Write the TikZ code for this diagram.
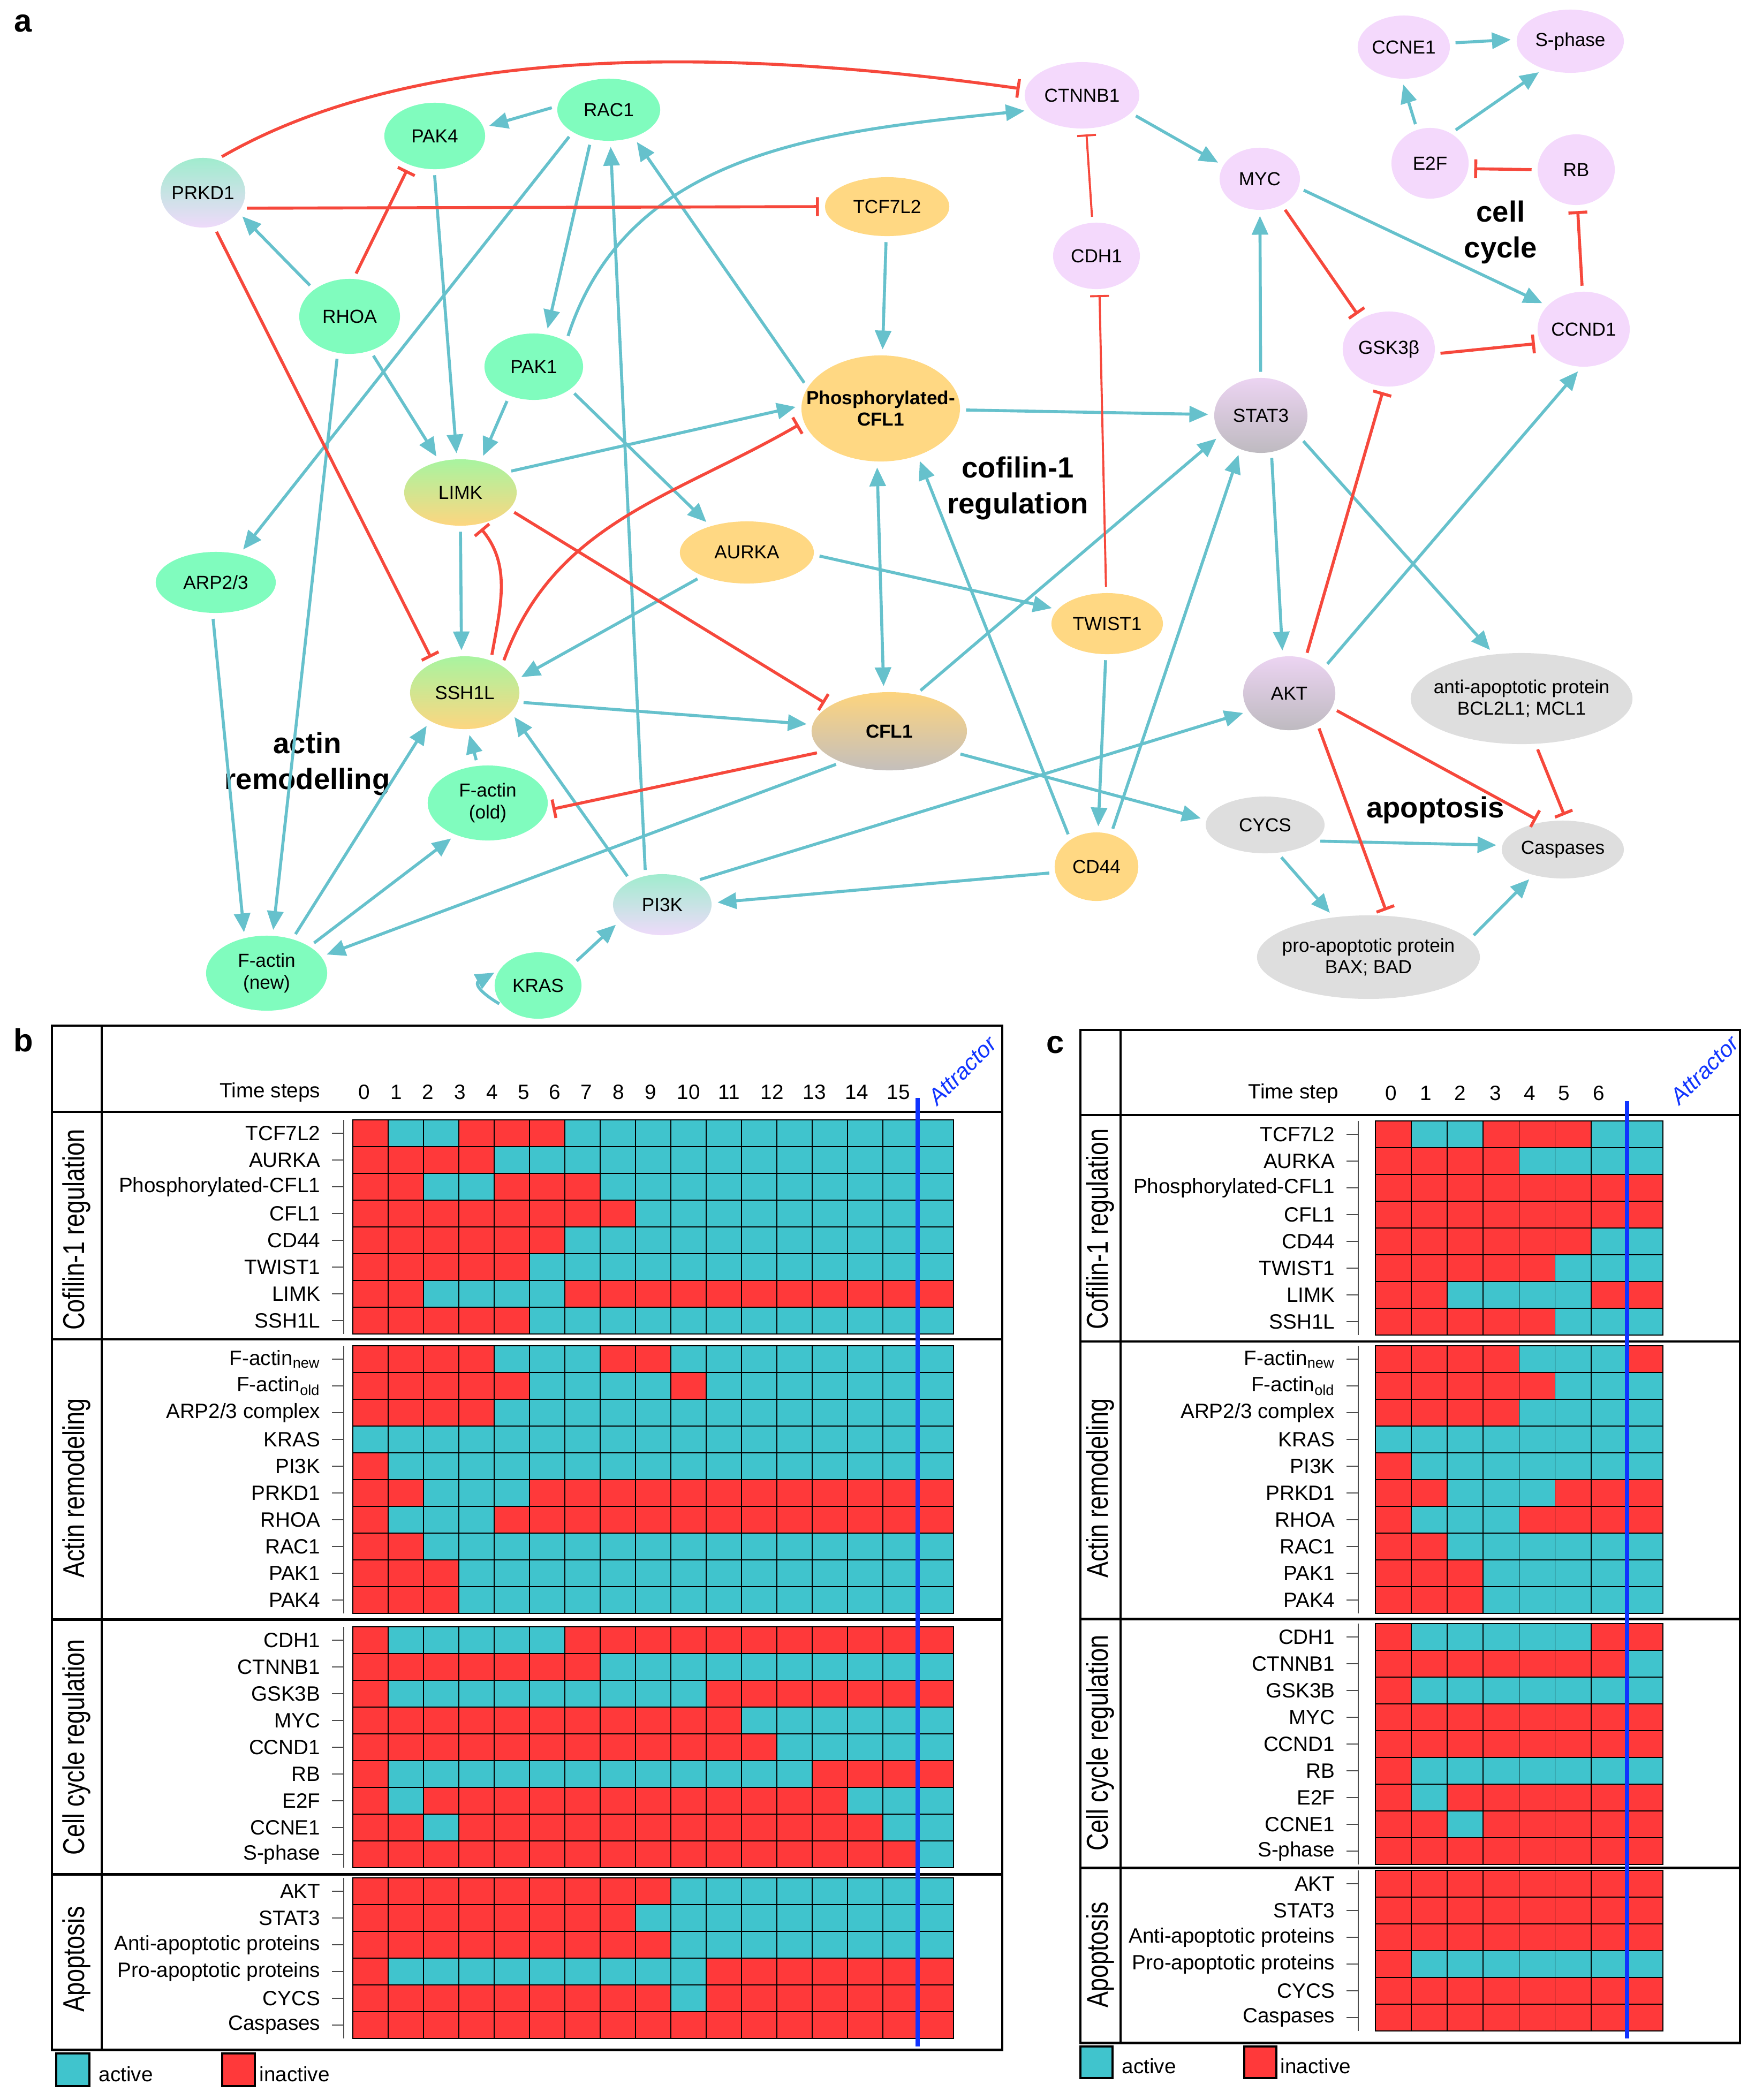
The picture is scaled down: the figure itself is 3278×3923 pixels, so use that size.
\documentclass[tikz,border=0pt]{standalone}
\usepackage{fontspec}
\setmainfont{Liberation Sans}
\newfontfamily\secfont[FakeStretch=0.8]{Liberation Sans}
\usetikzlibrary{arrows.meta}
\usetikzlibrary{shapes.geometric}

\definecolor{ndgreen}{RGB}{128,252,190}
\definecolor{ndorange}{RGB}{255,216,131}
\definecolor{ndpink}{RGB}{244,217,252}
\definecolor{ndgray}{RGB}{222,222,222}
\definecolor{prkdtop}{RGB}{160,236,206}
\definecolor{prkdbot}{RGB}{238,218,250}
\definecolor{limktop}{RGB}{168,244,160}
\definecolor{limkbot}{RGB}{253,214,128}
\definecolor{cfltop}{RGB}{253,212,126}
\definecolor{cflbot}{RGB}{196,191,188}
\definecolor{stattop}{RGB}{236,212,242}
\definecolor{statbot}{RGB}{190,186,192}
\definecolor{edgecyan}{RGB}{102,193,204}
\definecolor{edgered}{RGB}{246,72,60}
\definecolor{hmon}{RGB}{64,196,205}
\definecolor{hmoff}{RGB}{255,57,58}
\definecolor{attblue}{RGB}{16,52,255}

\tikzset{
  gene/.style={ellipse, inner sep=0pt, inner xsep=-4pt, align=center, font=\fontsize{10}{11.5}\selectfont},
  ellsize/.style 2 args={minimum width=#1*0.02cm, minimum height=#2*0.02cm},
  actinnode/.style={gene, fill=ndgreen},
  cofnode/.style={gene, fill=ndorange},
  cycnode/.style={gene, fill=ndpink},
  apopnode/.style={gene, fill=ndgray},
  mixnode/.style 2 args={gene, top color=#1, bottom color=#2},
  act/.style={draw=edgecyan, line width=1.6pt, -{Triangle[length=10pt,width=8.5pt]}, shorten <=3pt, shorten >=3pt},
  actboth/.style={act, {Triangle[length=10pt,width=8.5pt]}-{Triangle[length=10pt,width=8.5pt]}},
  inh/.style={draw=edgered, line width=1.6pt, -{Bar[width=10pt]}, shorten <=3pt, shorten >=3pt},
  thininh/.style={inh, line width=1.1pt},
  region/.style={font=\bfseries\fontsize{15.5}{19}\selectfont, align=center},
  panel/.style={font=\bfseries\fontsize{17}{17}\selectfont, anchor=base west, inner sep=0pt},
  cell/.style={draw=black, line width=0.5pt},
  rowlab/.style={anchor=east, inner sep=0pt, font=\fontsize{11}{11}\selectfont},
  rowtick/.style={draw=black!70, line width=0.8pt},
  steplab/.style={inner sep=0pt, font=\fontsize{11}{11}\selectfont},
  seclab/.style={rotate=90, inner sep=0pt, font=\secfont\fontsize{16}{16}\selectfont},
  frame/.style={draw=black, line width=1.4pt},
  thinframe/.style={draw=black, line width=0.9pt},
  attline/.style={draw=attblue, line width=2.3pt},
  attlab/.style={rotate=45, inner sep=0pt, text=attblue, font=\itshape\fontsize{12}{12}\selectfont},
  legbox/.style={draw=black, line width=1pt},
  leglab/.style={anchor=base west, inner sep=0pt, font=\fontsize{11}{11}\selectfont},
}

% name, x0, top, cell width, tick gap, label, states
\newcommand{\hmrow}[7]{%
  \foreach \s [count=\k from 0] in {#7}{%
    \ifnum\s=1 \colorlet{cellfill}{hmon}\else\colorlet{cellfill}{hmoff}\fi
    \filldraw[cell, fill=cellfill] ({#2+\k*#4},#3) rectangle ++(#4,50);
  }
  \node[rowlab] (#1) at ({#2-#5-43},{#3+25}) {#6};
  \draw[rowtick] ({#2-#5-22},{#3+25}) -- ++(22,0);
}

\begin{document}
\begin{tikzpicture}[x=0.01cm, y=-0.01cm]
\useasboundingbox (0,0) rectangle (3278,3923);

\node[panel] (pa) at (26,59) {a};
\node[panel] (pb) at (25,1964) {b};
\node[panel] (pc) at (1954,1967) {c};

\node[mixnode={prkdtop}{prkdbot}, ellsize={79}{65}] (PRKD1) at (379,360) {PRKD1};
\node[actinnode, ellsize={94}{62}] (PAK4) at (812,254) {PAK4};
\node[actinnode, ellsize={96}{58}] (RAC1) at (1137,205) {RAC1};
\node[actinnode, ellsize={94}{70}] (RHOA) at (653,591) {RHOA};
\node[actinnode, ellsize={92}{62}] (PAK1) at (997,685) {PAK1};
\node[mixnode={limktop}{limkbot}, ellsize={105}{62}] (LIMK) at (860,920) {LIMK};
\node[mixnode={limktop}{limkbot}, ellsize={102}{68}] (SSH1L) at (868,1294) {SSH1L};
\node[actinnode, ellsize={112}{57}] (ARP) at (403,1088) {ARP2/3};
\node[actinnode, ellsize={112}{70}] (FOLD) at (911,1500) {F-actin\\(old)};
\node[actinnode, ellsize={113}{70}] (FNEW) at (498,1818) {F-actin\\(new)};
\node[actinnode, ellsize={81}{62}] (KRAS) at (1005,1841) {KRAS};
\node[mixnode={prkdtop}{prkdbot}, ellsize={92}{57}] (PI3K) at (1237,1690) {PI3K};
\node[cofnode, ellsize={125}{58}] (AURKA) at (1395,1032) {AURKA};
\node[cofnode, ellsize={116}{55}] (TCF) at (1657,386) {TCF7L2};
\node[cofnode, ellsize={148}{99}, inner xsep=-25pt, font=\bfseries\fontsize{10}{11.5}\selectfont] (PCFL) at (1645,763) {Phosphorylated-\\CFL1};
\node[mixnode={cfltop}{cflbot}, ellsize={145}{73}, font=\bfseries\fontsize{10}{11.5}\selectfont] (CFL) at (1661,1366) {CFL1};
\node[cofnode, ellsize={104}{57}] (TWIST) at (2068,1165) {TWIST1};
\node[cofnode, ellsize={78}{64}] (CD44) at (2048,1619) {CD44};
\node[cycnode, ellsize={107}{62}] (CTNNB1) at (2021,178) {CTNNB1};
\node[cycnode, ellsize={81}{62}] (CDH1) at (2048,478) {CDH1};
\node[cycnode, ellsize={75}{58}] (MYC) at (2353,334) {MYC};
\node[mixnode={stattop}{statbot}, ellsize={87}{70}] (STAT3) at (2355,776) {STAT3};
\node[cycnode, ellsize={86}{70}] (GSK) at (2594,652) {GSK3β};
\node[cycnode, ellsize={86}{70}] (CCND1) at (2958,615) {CCND1};
\node[cycnode, ellsize={72}{66}] (E2F) at (2671,305) {E2F};
\node[cycnode, ellsize={72}{66}] (RB) at (2944,317) {RB};
\node[cycnode, ellsize={86}{59}] (CCNE1) at (2622,88) {CCNE1};
\node[cycnode, ellsize={100}{59}] (SPH) at (2933,77) {S-phase};
\node[mixnode={stattop}{statbot}, ellsize={86}{69}] (AKT) at (2408,1295) {AKT};
\node[apopnode, ellsize={207}{85}, inner xsep=-14pt] (ANTI) at (2842,1305) {anti-apoptotic protein\\BCL2L1; MCL1};
\node[apopnode, ellsize={111}{53}] (CYCS) at (2363,1541) {CYCS};
\node[apopnode, ellsize={114}{54}] (CASP) at (2919,1587) {Caspases};
\node[apopnode, ellsize={208}{78}, inner xsep=-14pt] (PRO) at (2556,1788) {pro-apoptotic protein\\BAX; BAD};

\node[region] (lblactin) at (574,1427) {actin\\remodelling};
\node[region] (lblcof) at (1901,912) {cofilin-1\\regulation};
\node[region] (lblcyc) at (2803,434) {cell\\cycle};
\node[region] (lblapop) at (2681,1513) {apoptosis};

\draw[act] (RAC1.176) -- (PAK4.10);
\draw[act] (RAC1.-121) -- (PAK1.69);
\draw[act] (RAC1.212) -- (ARP.50);
\draw[act] (PI3K.120) -- (RAC1.-87);
\draw[act] (PCFL.164) -- (RAC1.-48);
\draw[act] (RHOA.143) -- (PRKD1.-29);
\draw[act] (RHOA.-59) -- (LIMK.124);
\draw[act] (RHOA.-108) -- (FNEW.81);
\draw[act] (PAK4.-91) -- (LIMK.96);
\draw[act] (PAK1.-130) -- (LIMK.57);
\draw[act] (PAK1.38) to[out=72,in=186] (CTNNB1.196);
\draw[act] (PAK1.-32) -- (AURKA.144);
\draw[act] (LIMK.24) -- (PCFL.178);
\draw[act] (LIMK.-90) -- (SSH1L.95);
\draw[act] (TCF) -- (PCFL);
\draw[actboth] (PCFL.-94) -- (CFL.98);
\draw[act] (PCFL) -- (STAT3);
\draw[act] (CD44.134) -- (PCFL.-52);
\draw[act] (AURKA.208) -- (SSH1L.14);
\draw[act] (AURKA.-2) -- (TWIST.164);
\draw[act] (SSH1L.-10) -- (CFL.175);
\draw[act] (FOLD.105) -- (SSH1L.-85);
\draw[act] (FNEW.53) -- (SSH1L.-141);
\draw[act] (FNEW.32) -- (FOLD.-135);
\draw[act] (CFL.-147) -- (FNEW.17);
\draw[act] (ARP.-96) -- (FNEW.122);
\draw[act] (PI3K.143) -- (SSH1L.-23);
\draw[act] (PI3K.36) -- (AKT.204);
\draw[act] (CD44.188) -- (PI3K.2);
\draw[act] (KRAS.31) -- (PI3K.-159);
\draw[act] (KRAS.212) .. controls +(-50,-30) and +(-45,25) .. (KRAS.158);
\draw[act] (CFL.54) -- (STAT3.206);
\draw[act] (CFL.-18) -- (CYCS.175);
\draw[act] (TWIST) -- (CD44);
\draw[act] (CD44.66) -- (STAT3.-121);
\draw[act] (STAT3) -- (MYC);
\draw[act] (STAT3.-74) -- (AKT.100);
\draw[act] (STAT3.-29) -- (ANTI.122);
\draw[act] (AKT.36) -- (CCND1.-93);
\draw[act] (CTNNB1.-20) -- (MYC.160);
\draw[act] (MYC.-13) -- (CCND1.147);
\draw[act] (E2F.111) -- (CCNE1.-94);
\draw[act] (E2F.55) -- (SPH.-134);
\draw[act] (CCNE1.5) -- (SPH.178);
\draw[act] (CYCS.-18) -- (CASP.176);
\draw[act] (CYCS.-66) -- (PRO.131);
\draw[act] (PRO.10) -- (CASP.-139);

\draw[inh] (PRKD1.67) to[out=30,in=172,looseness=0.8] (CTNNB1.174);
\draw[inh] (PRKD1.-22) -- (TCF.180);
\draw[inh] (PRKD1.-72) -- (SSH1L.136);
\draw[inh] (RHOA.84) -- (PAK4.229);
\draw[inh] (SSH1L.51) to[out=80,in=-50] (LIMK.-62);
\draw[inh] (SSH1L.36) to[out=70,in=210] (PCFL.190);
\draw[inh] (LIMK.-19) -- (CFL.157);
\draw[inh] (CFL.197) -- (FOLD.-7);
\draw[thininh] (CDH1.97) -- (CTNNB1.-83);
\draw[thininh] (TWIST.92) -- (CDH1.-85);
\draw[inh] (MYC.-50) -- (GSK.133);
\draw[inh] (GSK.-6) -- (CCND1.198);
\draw[inh] (CCND1.92) -- (RB.-88);
\draw[inh] (RB.180) -- (E2F.-8);
\draw[inh] (AKT.65) -- (GSK.-97);
\draw[inh] (AKT.-19) -- (CASP.128);
\draw[inh] (AKT.-47) -- (PRO.65);
\draw[inh] (ANTI.-73) -- (CASP.83);

\draw[frame] (97,1916) rectangle (1872,3829);
\draw[thinframe] (190,1916) -- (190,3829);
\foreach \yy in {2077,2502,3025,3501} \draw[frame] (97,\yy) -- (1872,\yy);
\draw[frame] (2018,1924) rectangle (3250,3816);
\draw[thinframe] (2093,1924) -- (2093,3816);
\foreach \yy in {2083,2506,3024,3489} \draw[frame] (2018,\yy) -- (3250,\yy);

\node[steplab, anchor=east] (bts) at (599,2040) {Time steps};
\foreach \t/\xx in {0/680,1/740,2/799,3/859,4/919,5/978,6/1036,7/1095,8/1155,9/1215,10/1286,11/1362,12/1442,13/1521,14/1600,15/1678}
  \node[steplab] (bt\t) at (\xx,2040) {\t};
\node[steplab, anchor=east] (cts) at (2501,2042) {Time step};
\foreach \t/\xx in {0/2598,1/2663,2/2727,3/2793,4/2857,5/2921,6/2986}
  \node[steplab] (ct\t) at (\xx,2042) {\t};

\node[seclab] (bsec1) at (143,2297) {Cofilin-1 regulation};
\node[seclab] (bsec2) at (143,2780) {Actin remodeling};
\node[seclab] (bsec3) at (143,3264) {Cell cycle regulation};
\node[seclab] (bsec4) at (143,3660) {Apoptosis};
\node[seclab] (csec1) at (2055,2296) {Cofilin-1 regulation};
\node[seclab] (csec2) at (2055,2780) {Actin remodeling};
\node[seclab] (csec3) at (2055,3256) {Cell cycle regulation};
\node[seclab] (csec4) at (2055,3652) {Apoptosis};

\foreach \ya/\yb in {2092/2492,2514/3014,3039/3489,3508/3808} \draw[rowtick] (642,\ya) -- (642,\yb);
\foreach \ya/\yb in {2094/2494,2514/3014,3033/3483,3494/3794} \draw[rowtick] (2537,\ya) -- (2537,\yb);

\hmrow{bTCF}{659}{2092}{66}{17}{TCF7L2}{0,1,1,0,0,0,1,1,1,1,1,1,1,1,1,1,1}
\hmrow{bAURKA}{659}{2142}{66}{17}{AURKA}{0,0,0,0,1,1,1,1,1,1,1,1,1,1,1,1,1}
\hmrow{bPCFL}{659}{2192}{66}{17}{Phosphorylated-CFL1}{0,0,1,1,0,0,0,1,1,1,1,1,1,1,1,1,1}
\hmrow{bCFL}{659}{2242}{66}{17}{CFL1}{0,0,0,0,0,0,0,0,1,1,1,1,1,1,1,1,1}
\hmrow{bCD44}{659}{2292}{66}{17}{CD44}{0,0,0,0,0,0,1,1,1,1,1,1,1,1,1,1,1}
\hmrow{bTWIST}{659}{2342}{66}{17}{TWIST1}{0,0,0,0,0,1,1,1,1,1,1,1,1,1,1,1,1}
\hmrow{bLIMK}{659}{2392}{66}{17}{LIMK}{0,0,1,1,1,1,0,0,0,0,0,0,0,0,0,0,0}
\hmrow{bSSH}{659}{2442}{66}{17}{SSH1L}{0,0,0,0,0,1,1,1,1,1,1,1,1,1,1,1,1}
\hmrow{bFNEW}{659}{2514}{66}{17}{F-actin\textsubscript{new}}{0,0,0,0,1,1,1,0,0,1,1,1,1,1,1,1,1}
\hmrow{bFOLD}{659}{2564}{66}{17}{F-actin\textsubscript{old}}{0,0,0,0,0,1,1,1,1,0,1,1,1,1,1,1,1}
\hmrow{bARP}{659}{2614}{66}{17}{ARP2/3 complex}{0,0,0,0,1,1,1,1,1,1,1,1,1,1,1,1,1}
\hmrow{bKRAS}{659}{2664}{66}{17}{KRAS}{1,1,1,1,1,1,1,1,1,1,1,1,1,1,1,1,1}
\hmrow{bPI3K}{659}{2714}{66}{17}{PI3K}{0,1,1,1,1,1,1,1,1,1,1,1,1,1,1,1,1}
\hmrow{bPRKD}{659}{2764}{66}{17}{PRKD1}{0,0,1,1,1,0,0,0,0,0,0,0,0,0,0,0,0}
\hmrow{bRHOA}{659}{2814}{66}{17}{RHOA}{0,1,1,1,0,0,0,0,0,0,0,0,0,0,0,0,0}
\hmrow{bRAC}{659}{2864}{66}{17}{RAC1}{0,0,1,1,1,1,1,1,1,1,1,1,1,1,1,1,1}
\hmrow{bPAK1}{659}{2914}{66}{17}{PAK1}{0,0,0,1,1,1,1,1,1,1,1,1,1,1,1,1,1}
\hmrow{bPAK4}{659}{2964}{66}{17}{PAK4}{0,0,0,1,1,1,1,1,1,1,1,1,1,1,1,1,1}
\hmrow{bCDH}{659}{3039}{66}{17}{CDH1}{0,1,1,1,1,1,0,0,0,0,0,0,0,0,0,0,0}
\hmrow{bCTNNB}{659}{3089}{66}{17}{CTNNB1}{0,0,0,0,0,0,0,1,1,1,1,1,1,1,1,1,1}
\hmrow{bGSK}{659}{3139}{66}{17}{GSK3B}{0,1,1,1,1,1,1,1,1,1,0,0,0,0,0,0,0}
\hmrow{bMYC}{659}{3189}{66}{17}{MYC}{0,0,0,0,0,0,0,0,0,0,0,1,1,1,1,1,1}
\hmrow{bCCND}{659}{3239}{66}{17}{CCND1}{0,0,0,0,0,0,0,0,0,0,0,0,1,1,1,1,1}
\hmrow{bRB}{659}{3289}{66}{17}{RB}{0,1,1,1,1,1,1,1,1,1,1,1,1,0,0,0,0}
\hmrow{bE2F}{659}{3339}{66}{17}{E2F}{0,1,0,0,0,0,0,0,0,0,0,0,0,0,1,1,1}
\hmrow{bCCNE}{659}{3389}{66}{17}{CCNE1}{0,0,1,0,0,0,0,0,0,0,0,0,0,0,0,1,1}
\hmrow{bSPH}{659}{3439}{66}{17}{S-phase}{0,0,0,0,0,0,0,0,0,0,0,0,0,0,0,0,1}
\hmrow{bAKT}{659}{3508}{66}{17}{AKT}{0,0,0,0,0,0,0,0,0,1,1,1,1,1,1,1,1}
\hmrow{bSTAT}{659}{3558}{66}{17}{STAT3}{0,0,0,0,0,0,0,0,1,1,1,1,1,1,1,1,1}
\hmrow{bANTI}{659}{3608}{66}{17}{Anti-apoptotic proteins}{0,0,0,0,0,0,0,0,0,1,1,1,1,1,1,1,1}
\hmrow{bPRO}{659}{3658}{66}{17}{Pro-apoptotic proteins}{0,1,1,1,1,1,1,1,1,1,0,0,0,0,0,0,0}
\hmrow{bCYCS}{659}{3708}{66}{17}{CYCS}{0,0,0,0,0,0,0,0,0,1,0,0,0,0,0,0,0}
\hmrow{bCASP}{659}{3758}{66}{17}{Caspases}{0,0,0,0,0,0,0,0,0,0,0,0,0,0,0,0,0}

\hmrow{cTCF}{2569}{2094}{67.1}{32}{TCF7L2}{0,1,1,0,0,0,1,1}
\hmrow{cAURKA}{2569}{2144}{67.1}{32}{AURKA}{0,0,0,0,1,1,1,1}
\hmrow{cPCFL}{2569}{2194}{67.1}{32}{Phosphorylated-CFL1}{0,0,0,0,0,0,0,0}
\hmrow{cCFL}{2569}{2244}{67.1}{32}{CFL1}{0,0,0,0,0,0,0,0}
\hmrow{cCD44}{2569}{2294}{67.1}{32}{CD44}{0,0,0,0,0,0,1,1}
\hmrow{cTWIST}{2569}{2344}{67.1}{32}{TWIST1}{0,0,0,0,0,1,1,1}
\hmrow{cLIMK}{2569}{2394}{67.1}{32}{LIMK}{0,0,1,1,1,1,0,0}
\hmrow{cSSH}{2569}{2444}{67.1}{32}{SSH1L}{0,0,0,0,0,1,1,1}
\hmrow{cFNEW}{2569}{2514}{67.1}{32}{F-actin\textsubscript{new}}{0,0,0,0,1,1,1,0}
\hmrow{cFOLD}{2569}{2564}{67.1}{32}{F-actin\textsubscript{old}}{0,0,0,0,0,1,1,1}
\hmrow{cARP}{2569}{2614}{67.1}{32}{ARP2/3 complex}{0,0,0,0,1,1,1,1}
\hmrow{cKRAS}{2569}{2664}{67.1}{32}{KRAS}{1,1,1,1,1,1,1,1}
\hmrow{cPI3K}{2569}{2714}{67.1}{32}{PI3K}{0,1,1,1,1,1,1,1}
\hmrow{cPRKD}{2569}{2764}{67.1}{32}{PRKD1}{0,0,1,1,1,0,0,0}
\hmrow{cRHOA}{2569}{2814}{67.1}{32}{RHOA}{0,1,1,1,0,0,0,0}
\hmrow{cRAC}{2569}{2864}{67.1}{32}{RAC1}{0,0,1,1,1,1,1,1}
\hmrow{cPAK1}{2569}{2914}{67.1}{32}{PAK1}{0,0,0,1,1,1,1,1}
\hmrow{cPAK4}{2569}{2964}{67.1}{32}{PAK4}{0,0,0,1,1,1,1,1}
\hmrow{cCDH}{2569}{3033}{67.1}{32}{CDH1}{0,1,1,1,1,1,0,0}
\hmrow{cCTNNB}{2569}{3083}{67.1}{32}{CTNNB1}{0,0,0,0,0,0,0,1}
\hmrow{cGSK}{2569}{3133}{67.1}{32}{GSK3B}{0,1,1,1,1,1,1,1}
\hmrow{cMYC}{2569}{3183}{67.1}{32}{MYC}{0,0,0,0,0,0,0,0}
\hmrow{cCCND}{2569}{3233}{67.1}{32}{CCND1}{0,0,0,0,0,0,0,0}
\hmrow{cRB}{2569}{3283}{67.1}{32}{RB}{0,1,1,1,1,1,1,1}
\hmrow{cE2F}{2569}{3333}{67.1}{32}{E2F}{0,1,0,0,0,0,0,0}
\hmrow{cCCNE}{2569}{3383}{67.1}{32}{CCNE1}{0,0,1,0,0,0,0,0}
\hmrow{cSPH}{2569}{3433}{67.1}{32}{S-phase}{0,0,0,0,0,0,0,0}
\hmrow{cAKT}{2569}{3494}{67.1}{32}{AKT}{0,0,0,0,0,0,0,0}
\hmrow{cSTAT}{2569}{3544}{67.1}{32}{STAT3}{0,0,0,0,0,0,0,0}
\hmrow{cANTI}{2569}{3594}{67.1}{32}{Anti-apoptotic proteins}{0,0,0,0,0,0,0,0}
\hmrow{cPRO}{2569}{3644}{67.1}{32}{Pro-apoptotic proteins}{0,1,1,1,1,1,1,1}
\hmrow{cCYCS}{2569}{3694}{67.1}{32}{CYCS}{0,0,0,0,0,0,0,0}
\hmrow{cCASP}{2569}{3744}{67.1}{32}{Caspases}{0,0,0,0,0,0,0,0}

\draw[attline] (1714,2051) -- (1714,3823);
\draw[attline] (3039,2057) -- (3039,3808);
\node[attlab] (batt) at (1798,2000) {Attractor};
\node[attlab] (catt) at (3184,1999) {Attractor};

\draw[legbox, fill=hmon] (105,3836) rectangle (167,3897);
\node[leglab] (bact) at (184,3888) {active};
\draw[legbox, fill=hmoff] (415,3836) rectangle (476,3897);
\node[leglab] (binact) at (484,3888) {inactive};
\draw[legbox, fill=hmon] (2018,3823) rectangle (2078,3882);
\node[leglab] (cact) at (2095,3873) {active};
\draw[legbox, fill=hmoff] (2324,3823) rectangle (2384,3882);
\node[leglab] (cinact) at (2391,3873) {inactive};
\end{tikzpicture}
\end{document}
